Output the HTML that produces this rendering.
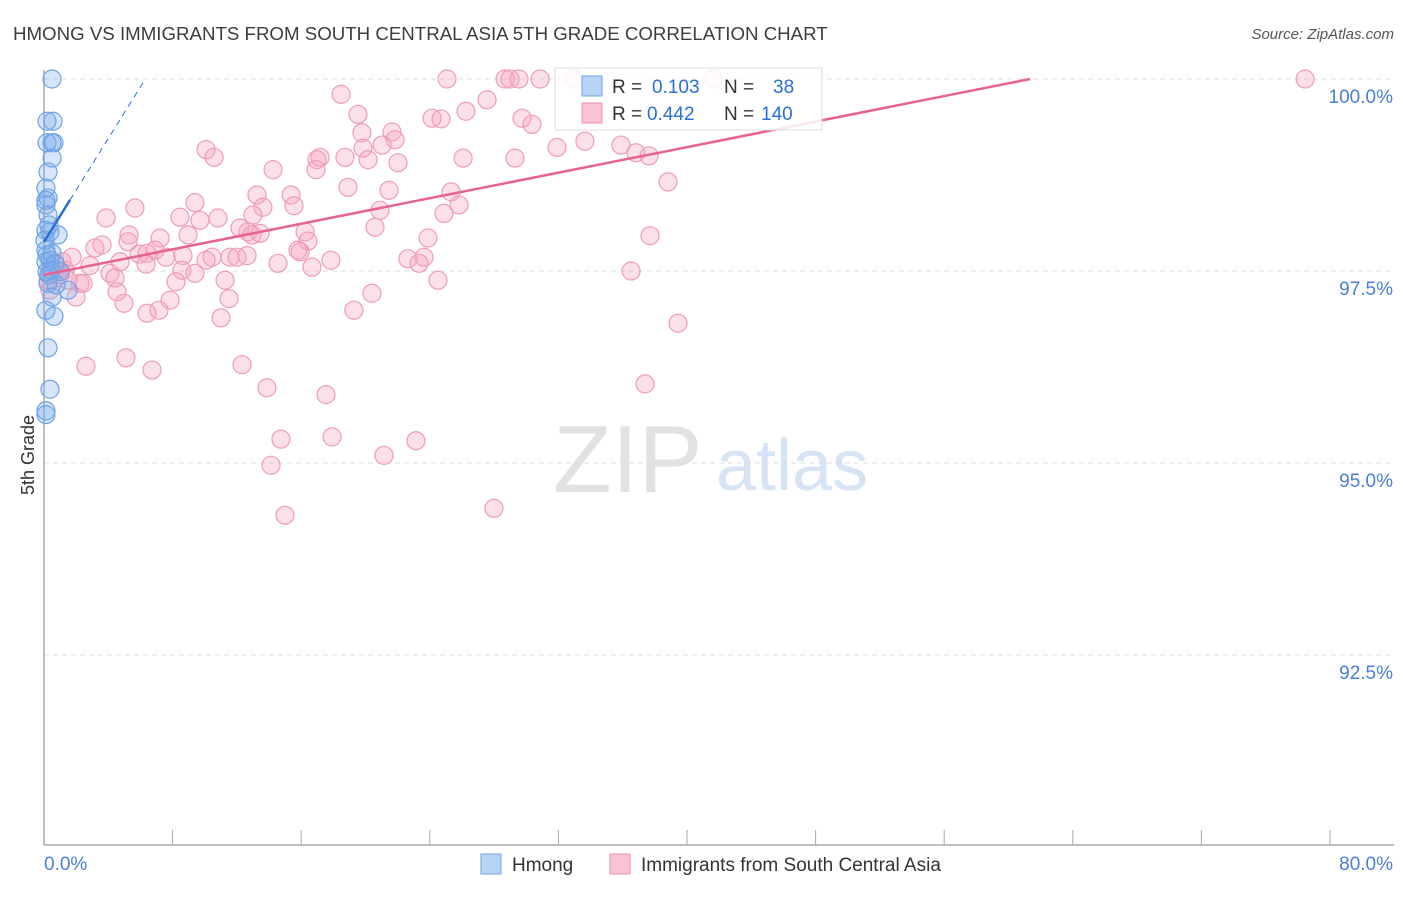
<!DOCTYPE html>
<html><head><meta charset="utf-8">
<style>
body{margin:0;background:#fff;font-family:"Liberation Sans",sans-serif;}
svg text{font-family:"Liberation Sans",sans-serif;}
</style></head>
<body>
<svg id="chart" width="1406" height="892" viewBox="0 0 1406 892">
<text x="13" y="40" font-size="18.7" fill="#3d3d3d">HMONG VS IMMIGRANTS FROM SOUTH CENTRAL ASIA 5TH GRADE CORRELATION CHART</text>
<text x="1394" y="39" font-size="15" font-style="italic" fill="#555" text-anchor="end">Source: ZipAtlas.com</text>
<text x="34" y="455" font-size="18" fill="#333" text-anchor="middle" transform="rotate(-90 34 455)">5th Grade</text>
<g>
<text x="553" y="492" font-size="96" font-family="Liberation Serif" fill="#e2e2e2">ZIP</text>
<text x="716" y="490" font-size="72" fill="#d6e4f6">atlas</text>
</g>
<g id="grid"></g>
<g id="marks"></g>
<g>
<rect x="555" y="68" width="267" height="62" fill="#fff" fill-opacity="0.85" stroke="#ddd"/>
<rect x="582" y="76" width="20" height="20" fill="#b7d3f5" stroke="#6fa3e3"/>
<rect x="582" y="103" width="20" height="20" fill="#f9c3d3" stroke="#ec8fae"/>
<text x="612" y="93" font-size="19" fill="#333">R =</text><text x="652" y="93" font-size="19" fill="#2a6fd6">0.103</text>
<text x="724" y="93" font-size="19" fill="#333">N =</text><text x="773" y="93" font-size="19" fill="#2a6fd6">38</text>
<text x="612" y="120" font-size="19" fill="#333">R =</text><text x="647" y="120" font-size="19" fill="#2a6fd6">0.442</text>
<text x="724" y="120" font-size="19" fill="#333">N =</text><text x="761" y="120" font-size="19" fill="#2a6fd6">140</text>
</g>
<g>
<rect x="481" y="854" width="20" height="20" fill="#b7d3f5" stroke="#6fa3e3"/>
<text x="512" y="871" font-size="19" fill="#333">Hmong</text>
<rect x="610" y="854" width="20" height="20" fill="#f9c3d3" stroke="#ec8fae"/>
<text x="641" y="871" font-size="19" fill="#333">Immigrants from South Central Asia</text>
</g>
</svg>
<script>
const yTicks=[100,97.5,95,92.5];
const yTickLabels=["100.0%","97.5%","95.0%","92.5%"];
const xEndLabels=["0.0%","80.0%"];
const pinkX=[25.07,28.68,28.99,29.55,30.86,32.97,41.62,78.45,18.48,19.53,26.25,27.56,24.14,24.70,29.74,30.36,19.78,21.65,21.84,19.84,21.03,10.08,10.58,17.17,16.98,18.72,20.16,22.02,26.07,29.30,31.91,33.65,35.89,36.83,37.64,14.25,16.92,38.82,18.91,21.46,25.32,9.39,13.25,15.37,15.55,13.62,5.66,3.86,8.46,10.82,9.70,13.00,20.90,24.88,25.82,12.69,12.19,16.24,20.59,5.29,7.22,8.96,12.94,13.44,23.89,16.42,3.17,5.23,3.61,6.91,7.59,5.91,6.41,8.65,10.45,11.57,12.01,12.63,15.93,15.80,17.85,22.64,23.64,23.33,1.74,2.86,4.73,6.35,10.08,14.56,16.67,8.58,9.39,4.11,4.42,8.21,11.26,24.51,36.52,37.70,2.24,2.43,4.54,4.98,1.99,7.84,11.51,7.15,6.41,11.01,19.28,20.40,39.44,5.10,2.61,6.72,12.32,13.87,17.54,37.39,14.74,17.92,23.14,14.12,21.15,14.99,27.99,0.37,0.87,1.31,1.00,1.49,0.68,1.12,0.25];
const pinkY=[100,100,100,100,100,100,100,100,99.80,99.54,99.58,99.73,99.49,99.48,99.49,99.41,99.30,99.31,99.21,99.10,99.14,99.08,98.98,98.98,98.95,98.98,98.95,98.91,98.97,98.97,99.11,99.19,99.14,99.04,99.00,98.82,98.82,98.66,98.59,98.55,98.53,98.39,98.49,98.49,98.35,98.33,98.32,98.19,98.20,98.19,98.16,98.23,98.29,98.25,98.36,98.01,98.06,98.01,98.07,97.97,97.93,97.97,97.97,97.99,97.93,97.89,97.80,97.88,97.84,97.77,97.68,97.72,97.73,97.70,97.68,97.68,97.68,97.70,97.75,97.77,97.64,97.66,97.68,97.60,97.68,97.57,97.62,97.59,97.64,97.60,97.55,97.51,97.47,97.47,97.41,97.36,97.38,97.38,97.50,97.96,97.34,97.34,97.23,97.08,97.16,97.12,97.14,96.99,96.95,96.89,96.99,97.21,96.82,96.37,96.26,96.21,96.28,95.98,95.89,96.03,95.31,95.34,95.29,94.97,95.10,94.32,94.41,97.25,97.51,97.51,97.45,97.38,97.58,97.62,97.38];
const blueX=[0.50,0.56,0.19,0.50,0.19,0.62,0.50,0.25,0.12,0.25,0.12,0.25,0.37,0.87,0.12,0.12,0.50,0.12,0.19,0.25,0.50,0.62,0.12,0.25,0.37,0.12,0.12,0.68,1.00,0.75,0.37,0.31,0.12,0.31,0.06,0.44,0.19,1.49];
const blueY=[100,99.45,99.45,99.17,99.17,99.17,98.97,98.79,98.58,98.45,98.36,98.23,98.01,97.97,98.03,97.77,97.73,97.62,97.49,97.34,97.16,96.91,96.99,96.50,95.96,95.68,95.63,97.60,97.49,97.32,97.64,97.45,98.42,98.10,97.90,97.51,97.71,97.25];
const pinkTrend=[97.45,0.04157]; // intercept, slope
const blueTrend=[97.88,0.3365];
const X0=44,PX=16.075,Y0=79,PY=76.8;
const sx=v=>X0+v*PX, sy=v=>Y0+(100-v)*PY;
const NS="http://www.w3.org/2000/svg";
function mk(tag,attrs,parent){const e=document.createElementNS(NS,tag);for(const k in attrs)e.setAttribute(k,attrs[k]);parent.appendChild(e);return e;}
const grid=document.getElementById('grid'),marks=document.getElementById('marks');
yTicks.forEach((t,i)=>{
 const l=mk('line',{x1:44,x2:1394,y1:sy(t),y2:sy(t),stroke:'#ddd','stroke-dasharray':'5,4'},grid);
 
 
 const tx=mk('text',{x:1393,y:sy(t)+24,'font-size':19,fill:'#4a7fd4','text-anchor':'end'},grid);
 tx.textContent=yTickLabels[i];
 
 
});
const ax=mk('line',{x1:44,x2:44,y1:70,y2:845,stroke:'#aaa','stroke-width':1.5},grid);


const bx=mk('line',{x1:44,x2:1394,y1:845,y2:845,stroke:'#aaa','stroke-width':1.5},grid);


for(let i=1;i<=10;i++){const t=mk('line',{x1:sx(i*8),x2:sx(i*8),y1:830,y2:845,stroke:'#aaa'},grid);
 
 }
const xl0=mk('text',{x:44,y:870,'font-size':19,fill:'#4a7fd4'},grid);xl0.textContent=xEndLabels[0];


const xl1=mk('text',{x:1393,y:870,'font-size':19,fill:'#4a7fd4','text-anchor':'end'},grid);xl1.textContent=xEndLabels[1];


pinkX.forEach((x,i)=>{const c=mk('circle',{cx:sx(x),cy:sy(pinkY[i]),r:9,fill:'rgba(245,165,190,0.35)',stroke:'#ee9cb8','stroke-width':1.2},marks);
 
 });
blueX.forEach((x,i)=>{const c=mk('circle',{cx:sx(x),cy:sy(blueY[i]),r:9,fill:'rgba(120,170,235,0.3)',stroke:'#6ea3e6','stroke-width':1.2},marks);
 
 });
const pxEnd=(100-pinkTrend[0])/pinkTrend[1];
const pl=mk('line',{x1:sx(0),y1:sy(pinkTrend[0]),x2:sx(pxEnd),y2:sy(100),stroke:'#e8628f','stroke-width':2.5},marks);


const bSolidEnd=1.62,bEnd=(100-blueTrend[0])/blueTrend[1];
const bl=mk('line',{x1:sx(0),y1:sy(blueTrend[0]),x2:sx(bSolidEnd),y2:sy(blueTrend[0]+blueTrend[1]*bSolidEnd),stroke:'#2a6fd6','stroke-width':2.5},marks);


const bd=mk('line',{x1:sx(bSolidEnd),y1:sy(blueTrend[0]+blueTrend[1]*bSolidEnd),x2:sx(bEnd),y2:sy(100),stroke:'#2a6fd6','stroke-width':1,'stroke-dasharray':'6,5'},marks);


</script>
</body></html>
